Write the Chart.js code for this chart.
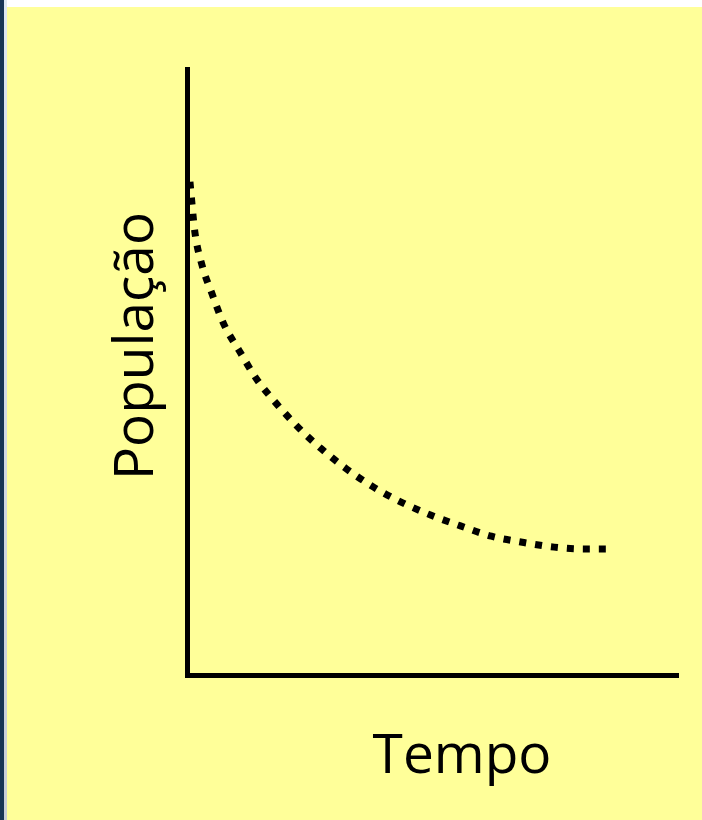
<!DOCTYPE html>
<html lang="pt">
<head>
  <meta charset="UTF-8" />
  <title>População x Tempo</title>
  <script src="https://cdn.jsdelivr.net/npm/chart.js"></script>
  <style>
    html, body { margin: 0; padding: 0; background: #fff; width: 702px; height: 820px; overflow: hidden; }
    .edge1 { position: absolute; left: 0; top: 0; width: 4px; height: 820px; background: #173554; }
    .edge2 { position: absolute; left: 4px; top: 0; width: 3px; height: 820px; background: linear-gradient(#dfe8f1, #c9ced6); }
    .slide { position: absolute; left: 7px; top: 7px; width: 695px; height: 813px; background: #ffff99; }
  </style>
</head>
<body>
  <div class="edge1"></div>
  <div class="edge2"></div>
  <div class="slide"><canvas id="chart" width="695" height="813"></canvas></div>

  <script>
    // curva (tempo, população)
    const tempo = [0.06, 0.16, 0.30, 0.51, 0.75, 1.08, 1.42, 1.83, 2.26, 2.74, 3.25, 3.80, 4.37, 4.96, 5.57, 6.20, 6.83, 7.48, 8.13, 8.54];
    const populacao = [81.4, 73.1, 67.8, 62.9, 57.9, 53.3, 48.8, 44.7, 40.9, 37.3, 34.0, 31.0, 28.5, 26.4, 24.6, 22.9, 21.9, 21.1, 20.8, 20.8];
    const xTitle = "Tempo";
    const yTitle = "População";

    const points = tempo.map((t, i) => ({ x: t, y: populacao[i] }));

    // titulos dos eixos, deslocados como na figura
    const axisTitles = {
      id: "axisTitles",
      afterDraw(chart) {
        const { ctx, chartArea } = chart;
        ctx.save();
        ctx.fillStyle = "#000";
        ctx.font = "55px 'Open Sans'";
        ctx.textAlign = "center";
        ctx.textBaseline = "alphabetic";
        ctx.fillText(xTitle, chartArea.left + 275, chartArea.bottom + 98);
        ctx.translate(chartArea.left - 34, chartArea.top + 277);
        ctx.rotate(-Math.PI / 2);
        ctx.fillText(yTitle, 0, 0);
        ctx.restore();
      }
    };

    new Chart(document.getElementById("chart"), {
      type: "line",
      data: {
        datasets: [{
          data: points,
          borderColor: "#000",
          borderWidth: 7,
          borderDash: [7, 9],
          borderCapStyle: "butt",
          pointRadius: 0,
          fill: false,
          cubicInterpolationMode: "monotone"
        }]
      },
      options: {
        responsive: false,
        animation: false,
        layout: { padding: { left: 172, top: 62, right: 24, bottom: 137 } },
        plugins: { legend: { display: false }, tooltip: { enabled: false } },
        scales: {
          x: {
            type: "linear", min: 0, max: 10,
            grid: { display: false },
            ticks: { display: false },
            border: { color: "#000", width: 5 }
          },
          y: {
            min: 0, max: 100,
            grid: { display: false },
            ticks: { display: false },
            border: { color: "#000", width: 5 }
          }
        }
      },
      plugins: [axisTitles]
    });
  </script>
</body>
</html>
